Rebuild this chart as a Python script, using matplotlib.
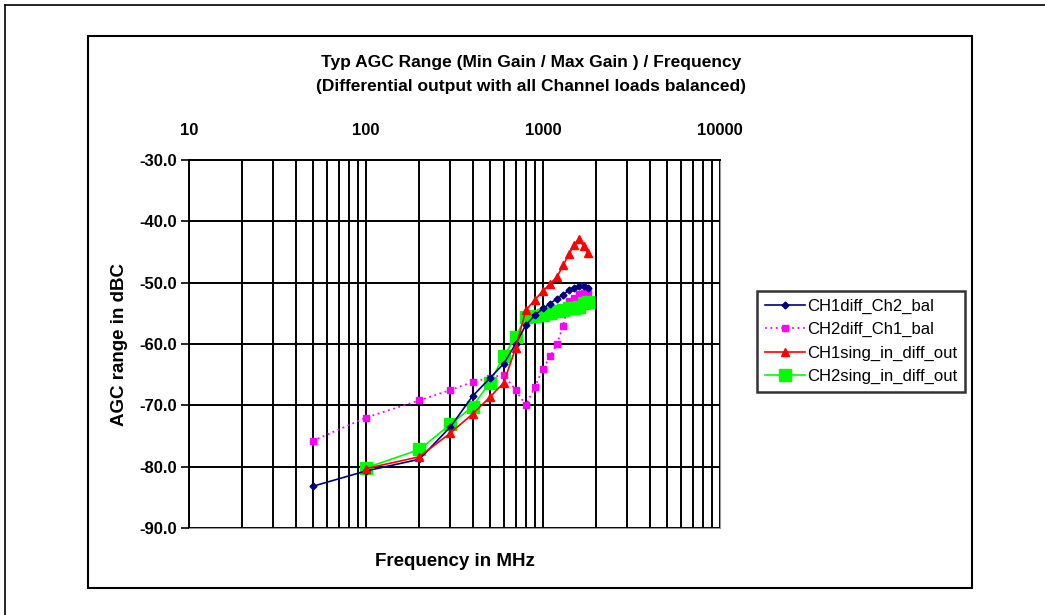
import matplotlib
matplotlib.use("Agg")
import matplotlib.pyplot as plt
import matplotlib.patches as patches
from matplotlib.lines import Line2D
from matplotlib.ticker import FixedLocator, NullFormatter

plt.rcParams['font.family'] = ['Liberation Sans', 'DejaVu Sans']

# --- data ---
freq_50 = [50, 100, 200, 300, 400, 500, 600, 700, 800, 900, 1000,
           1100, 1200, 1300, 1400, 1500, 1600, 1700, 1800]
freq_100 = freq_50[1:]

ch1diff = [-83.2, -80.7, -78.8, -73.5, -68.5, -65.6, -63.2, -60.0, -56.9, -55.3, -54.2,
           -53.4, -52.6, -52.0, -51.2, -50.8, -50.6, -50.6, -50.8]
ch2diff = [-75.8, -72.0, -69.2, -67.5, -66.2, -65.5, -65.0, -67.5, -70.0, -67.0, -64.0,
           -62.0, -60.0, -57.0, -53.0, -52.5, -51.8, -51.7, -51.7]
ch1sing = [-80.3, -78.4, -74.5, -71.4, -68.7, -66.3, -60.7, -54.5, -52.8, -51.3,
           -50.2, -49.0, -47.2, -45.3, -43.9, -42.8, -44.1, -45.2]
ch2sing = [-80.2, -77.2, -73.1, -70.2, -66.3, -62.0, -58.8, -55.6, -55.4, -55.2,
           -55.0, -54.7, -54.4, -54.2, -54.1, -54.0, -53.3, -53.2]

W, H = 1045, 615
fig = plt.figure(figsize=(W / 100, H / 100), dpi=100)

# outer frame (only left/top visible) and chart box
fig.add_artist(Line2D([5 / W, 5 / W], [0, 1 - 5 / H], color="black", lw=1.2, transform=fig.transFigure))
fig.add_artist(Line2D([5 / W, 1], [1 - 5 / H, 1 - 5 / H], color="black", lw=1.2, transform=fig.transFigure))
fig.add_artist(patches.Rectangle((88 / W, 1 - 588 / H), (972 - 88) / W, (588 - 36) / H,
                                 fill=False, ec="black", lw=1.5, transform=fig.transFigure))

# plot area: x 189..720, y 160..528 (pixels)
ax = fig.add_axes([189 / W, 1 - 528 / H, (720 - 189) / W, (528 - 160) / H])

ax.plot(freq_50, ch1diff, color="#000080", marker="D", ms=3.5, lw=1.2, label="CH1diff_Ch2_bal", zorder=5)
ax.plot(freq_50, ch2diff, color="#FF00FF", marker="s", ms=5, lw=1.3, ls=(0, (1, 2)),
        label="CH2diff_Ch1_bal", zorder=4)
ax.plot(freq_100, ch1sing, color="#FF0000", marker="^", ms=5.5, lw=1.2, label="CH1sing_in_diff_out", zorder=5)
ax.plot(freq_100, ch2sing, color="#00FF00", marker="s", ms=8, lw=1.2, label="CH2sing_in_diff_out", zorder=4)

ax.set_xscale("log")
ax.set_xlim(10, 10000)
ax.set_ylim(-90, -30)
yt = [-90, -80, -70, -60, -50, -40, -30]
ax.set_yticks(yt)
ax.set_yticklabels(["%.1f" % v for v in yt], fontsize=12, fontweight="bold")
ax.xaxis.set_major_locator(FixedLocator([10, 100, 1000, 10000]))
ax.set_xticklabels(["10", "100", "1000", "10000"], fontsize=12, fontweight="bold")
ax.xaxis.set_minor_formatter(NullFormatter())
ax.xaxis.tick_top()
ax.tick_params(axis="x", which="both", length=0, pad=16)
ax.tick_params(axis="y", length=6, width=1.2, pad=3)
ax.grid(True, which="major", color="black", lw=1.4)
ax.grid(True, which="minor", axis="x", color="black", lw=1.4)
for s in ["top", "left"]:
    ax.spines[s].set_linewidth(1.4)
ax.spines["bottom"].set_color("#999999")
ax.spines["right"].set_color("#999999")

ax.set_xlabel("Frequency in MHz", fontsize=13.5, fontweight="bold", labelpad=18)
ax.xaxis.set_label_position("bottom")
ax.set_ylabel("AGC range in dBC", fontsize=13.5, fontweight="bold", labelpad=8)

fig.text(531 / W, 1 - 62 / H, "Typ AGC Range (Min Gain / Max Gain ) / Frequency",
         ha="center", va="center", fontsize=12.5, fontweight="bold")
fig.text(531 / W, 1 - 86 / H, "(Differential output with all Channel loads balanced)",
         ha="center", va="center", fontsize=12.5, fontweight="bold")

leg = fig.legend(loc="upper left", bbox_to_anchor=(757 / W, 1 - 291 / H), fontsize=12,
                 frameon=True, fancybox=False, borderpad=0.45, borderaxespad=0,
                 handlelength=2.4, handletextpad=0.15, labelspacing=0.5)
leg.get_frame().set_edgecolor("black")
leg.get_frame().set_linewidth(1.8)

fig.savefig("out.png", dpi=100)
